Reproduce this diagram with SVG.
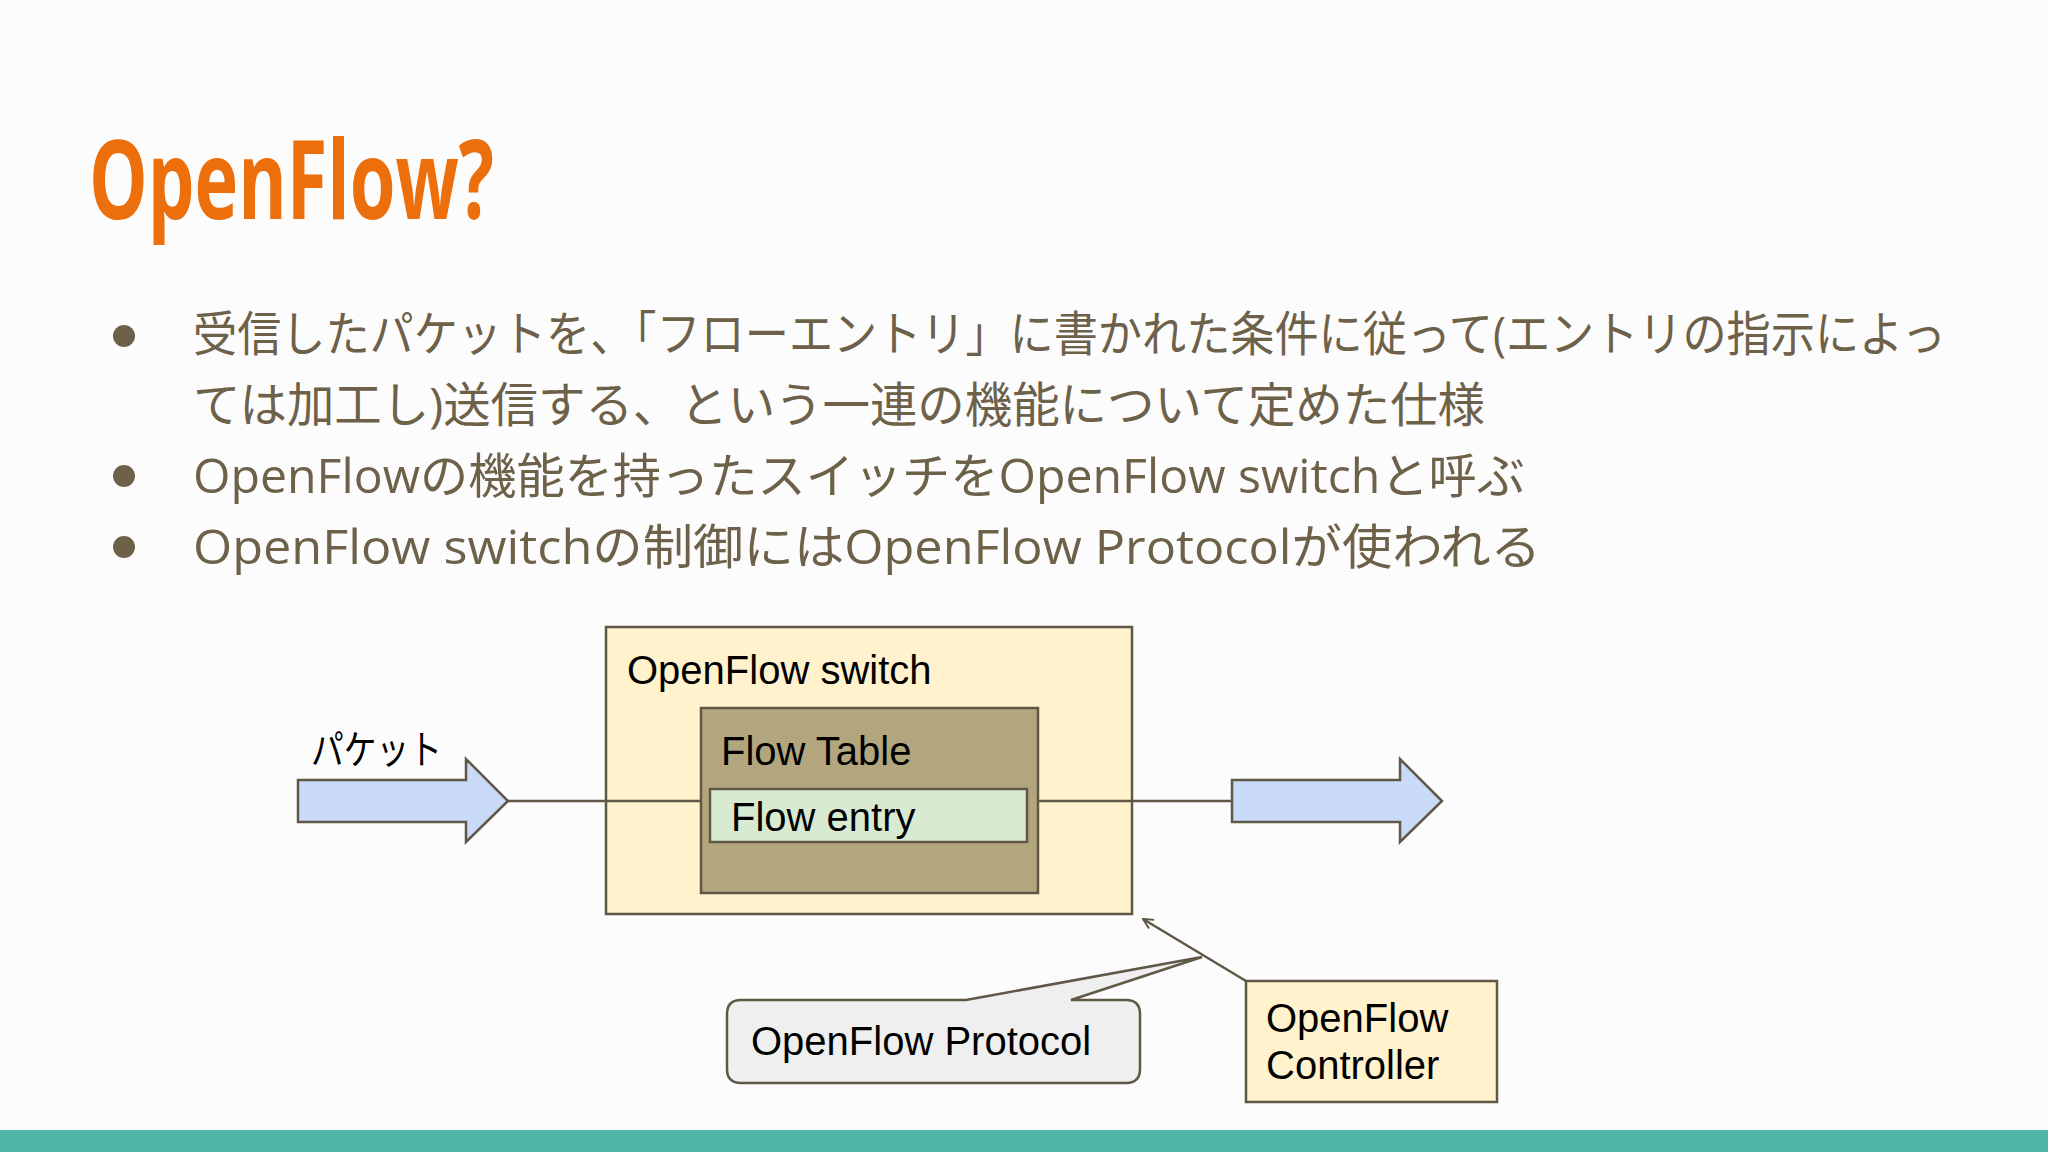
<svg xmlns="http://www.w3.org/2000/svg" width="2048" height="1152" viewBox="0 0 2048 1152">
<style>
.title{font-family:"Open Sans","Liberation Sans",sans-serif;font-weight:bold;font-size:110px;fill:#EC6F0B}
.body{font-family:"Open Sans","Noto Sans CJK JP",sans-serif;font-size:48px;fill:#6d6149}
.lbl{font-family:"Liberation Sans","Noto Sans CJK JP",sans-serif;font-size:40px;fill:#000}
.box{stroke:#5f5846;stroke-width:2.5}
.conn{stroke:#5f5846;stroke-width:2.5;fill:none}
</style>
<defs>
<marker id="open" viewBox="0 0 12 12" refX="11" refY="6" markerWidth="12" markerHeight="12" markerUnits="userSpaceOnUse" orient="auto">
<path d="M1,1 L11,6 L1,11" fill="none" stroke="#5f5846" stroke-width="2"/>
</marker>
</defs>
<rect width="2048" height="1152" fill="#fdfcfd"/>
<rect x="0" y="1130" width="2048" height="22" fill="#4db6a9"/>
<text class="title" x="89" y="219" textLength="405" lengthAdjust="spacingAndGlyphs">OpenFlow?</text>
<g id="bullets">
<circle cx="124" cy="336" r="11" fill="#6d6149"/>
<circle cx="124" cy="476" r="11" fill="#6d6149"/>
<circle cx="124" cy="547" r="11" fill="#6d6149"/>
<text class="body" x="193" y="351" textLength="1753" lengthAdjust="spacingAndGlyphs">受信したパケットを、「フローエントリ」に書かれた条件に従って(エントリの指示によっ</text>
<text class="body" x="193" y="422" textLength="1292" lengthAdjust="spacingAndGlyphs">ては加工し)送信する、という一連の機能について定めた仕様</text>
<text class="body" x="193" y="493" textLength="1332" lengthAdjust="spacingAndGlyphs">OpenFlowの機能を持ったスイッチをOpenFlow switchと呼ぶ</text>
<text class="body" x="193" y="564" textLength="1348" lengthAdjust="spacingAndGlyphs">OpenFlow switchの制御にはOpenFlow Protocolが使われる</text>
</g>
<g id="switch">
<rect class="box" x="606" y="627" width="526" height="287" fill="#fff2cc"/>
<text class="lbl" x="627" y="684">OpenFlow switch</text>
</g>
<g id="flowtable">
<rect class="box" x="701" y="708" width="337" height="185" fill="#b3a67e"/>
<text class="lbl" x="721" y="765">Flow Table</text>
</g>
<g id="flowentry">
<rect class="box" x="710" y="789" width="317" height="53" fill="#d9ead3"/>
<text class="lbl" x="731" y="831">Flow entry</text>
</g>
<g id="packet-in">
<path class="box" d="M298,780 L466,780 L466,759 L508,801 L466,842 L466,822 L298,822 Z" fill="#c9daf8"/>
<text class="lbl" x="311" y="764" textLength="131" lengthAdjust="spacingAndGlyphs">パケット</text>
</g>
<g id="packet-out">
<path class="box" d="M1232,780 L1400,780 L1400,759 L1442,801 L1400,842 L1400,822 L1232,822 Z" fill="#c9daf8"/>
</g>
<g id="controller">
<rect class="box" x="1246" y="981" width="251" height="121" fill="#fff2cc"/>
<text class="lbl" x="1266" y="1032">OpenFlow</text>
<text class="lbl" x="1266" y="1079">Controller</text>
</g>
<g id="protocol">
<path class="box" d="M741,1000 L966,1000 L1202,957 L1071,1000 L1126,1000 Q1140,1000 1140,1014 L1140,1069 Q1140,1083 1126,1083 L741,1083 Q727,1083 727,1069 L727,1014 Q727,1000 741,1000 Z" fill="#efefef"/>
<text class="lbl" x="751" y="1055">OpenFlow Protocol</text>
</g>
<g id="connectors">
<line class="conn" x1="508" y1="801" x2="701" y2="801"/>
<line class="conn" x1="1038" y1="801" x2="1232" y2="801"/>
<line class="conn" x1="1246" y1="981" x2="1143" y2="919" marker-end="url(#open)"/>
</g>
</svg>
